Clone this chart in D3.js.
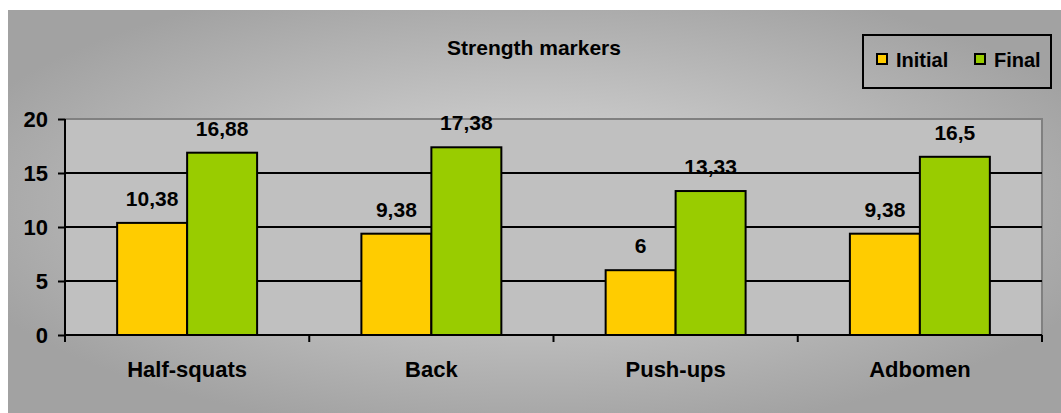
<!DOCTYPE html>
<html>
<head>
<meta charset="utf-8">
<script src="https://cdn.jsdelivr.net/npm/d3@7"></script>
<style>
  body { margin: 0; background: #fff; }
  text { font-family: "Liberation Sans", Arial, sans-serif; font-weight: bold; fill: #000; }
</style>
</head>
<body>
<svg id="chart" width="1061" height="413"></svg>
<script>
// chart data
var categories = ["Half-squats", "Back", "Push-ups", "Adbomen"];
var series = ["Initial", "Final"];
var initialValues = [10.38, 9.38, 6, 9.38];
var finalValues = [16.88, 17.38, 13.33, 16.5];
var valueLabels = [["10,38", "9,38", "6", "9,38"], ["16,88", "17,38", "13,33", "16,5"]];
var yTicks = [0, 5, 10, 15, 20];
var colors = ["#ffcc00", "#99cc00"];

var svg = d3.select("#chart");

// background with the light centre
var defs = svg.append("defs");
var grad = defs.append("radialGradient").attr("id", "bg")
  .attr("cx", "50%").attr("cy", "48%").attr("r", "58%");
grad.append("stop").attr("offset", "0%").attr("stop-color", "#dcdcdc");
grad.append("stop").attr("offset", "100%").attr("stop-color", "#a2a2a2");

svg.append("rect").attr("x", 8).attr("y", 10).attr("width", 1053).attr("height", 403)
  .attr("fill", "url(#bg)");

var plotLeft = 65, plotRight = 1042, plotTop = 119, plotBottom = 335;

var y = d3.scaleLinear().domain([0, 20]).range([plotBottom, plotTop]);
var xCat = d3.scaleBand().domain(categories).range([plotLeft, plotRight]);
var x0 = d3.scaleBand().domain(categories).range([plotLeft, plotRight])
  .paddingInner(0.427).paddingOuter(0.2135);
var x1 = d3.scaleBand().domain(series).range([0, x0.bandwidth()]);

// plot area
svg.append("rect").attr("x", plotLeft).attr("y", plotTop)
  .attr("width", plotRight - plotLeft).attr("height", plotBottom - plotTop)
  .attr("fill", "#c0c0c0");
svg.append("path")
  .attr("d", "M" + plotLeft + "," + plotTop + "H" + plotRight + "V" + plotBottom)
  .attr("fill", "none").attr("stroke", "#808080").attr("stroke-width", 2);

// gridlines
svg.append("g").selectAll("line")
  .data(yTicks.filter(function (d) { return d > 0 && d < 20; }))
  .join("line")
  .attr("x1", plotLeft).attr("x2", plotRight)
  .attr("y1", function (d) { return y(d); })
  .attr("y2", function (d) { return y(d); })
  .attr("stroke", "#000").attr("stroke-width", 2);

// bars
var data = [initialValues, finalValues];
series.forEach(function (s, si) {
  svg.append("g").selectAll("rect")
    .data(categories)
    .join("rect")
    .attr("x", function (c) { return x0(c) + x1(s); })
    .attr("y", function (c, i) { return y(data[si][i]); })
    .attr("width", x1.bandwidth())
    .attr("height", function (c, i) { return plotBottom - y(data[si][i]); })
    .attr("fill", colors[si])
    .attr("stroke", "#000").attr("stroke-width", 2);

  svg.append("g").selectAll("text")
    .data(categories)
    .join("text")
    .attr("x", function (c) { return x0(c) + x1(s) + x1.bandwidth() / 2; })
    .attr("y", function (c, i) { return y(data[si][i]) - 17; })
    .attr("text-anchor", "middle")
    .style("font-size", "21px")
    .text(function (c, i) { return valueLabels[si][i]; });
});

// y axis
var yAxis = svg.append("g").attr("transform", "translate(" + plotLeft + ",0)")
  .call(d3.axisLeft(y).tickValues(yTicks).tickSize(7).tickPadding(10));
yAxis.select(".domain").attr("d", "M0," + plotTop + "V" + (plotBottom + 6))
  .attr("stroke", "#000").attr("stroke-width", 2);
yAxis.selectAll(".tick line").attr("stroke", "#000").attr("stroke-width", 2);
yAxis.selectAll("text").style("font-size", "22px").attr("dy", "0.36em")
  .attr("font-family", null);

// x axis
var xAxis = svg.append("g").attr("transform", "translate(0," + plotBottom + ")")
  .call(d3.axisBottom(xCat).tickSize(0));
xAxis.select(".domain").attr("d", "M" + plotLeft + ",0H" + plotRight)
  .attr("stroke", "#000").attr("stroke-width", 2);
xAxis.selectAll("text").style("font-size", "22px").attr("dy", "0.71em")
  .attr("y", 26).attr("font-family", null);

// category boundary ticks
var bounds = categories.map(function (c) { return xCat(c); }).concat([plotRight]);
svg.append("g").selectAll("line")
  .data(bounds)
  .join("line")
  .attr("x1", function (d) { return d; }).attr("x2", function (d) { return d; })
  .attr("y1", plotBottom).attr("y2", plotBottom + 7)
  .attr("stroke", "#000").attr("stroke-width", 2);

// title
svg.append("text").attr("x", 534).attr("y", 55)
  .attr("text-anchor", "middle").style("font-size", "21px")
  .text("Strength markers");

// legend
var legend = svg.append("g");
legend.append("rect").attr("x", 863).attr("y", 35).attr("width", 188).attr("height", 53)
  .attr("fill", "none").attr("stroke", "#000").attr("stroke-width", 2);
var legendX = [877, 975];
series.forEach(function (s, i) {
  legend.append("rect").attr("x", legendX[i]).attr("y", 54)
    .attr("width", 10).attr("height", 10)
    .attr("fill", colors[i]).attr("stroke", "#000").attr("stroke-width", 2);
  legend.append("text").attr("x", legendX[i] + 19).attr("y", 67)
    .style("font-size", "20px").text(s);
});
</script>
</body>
</html>
